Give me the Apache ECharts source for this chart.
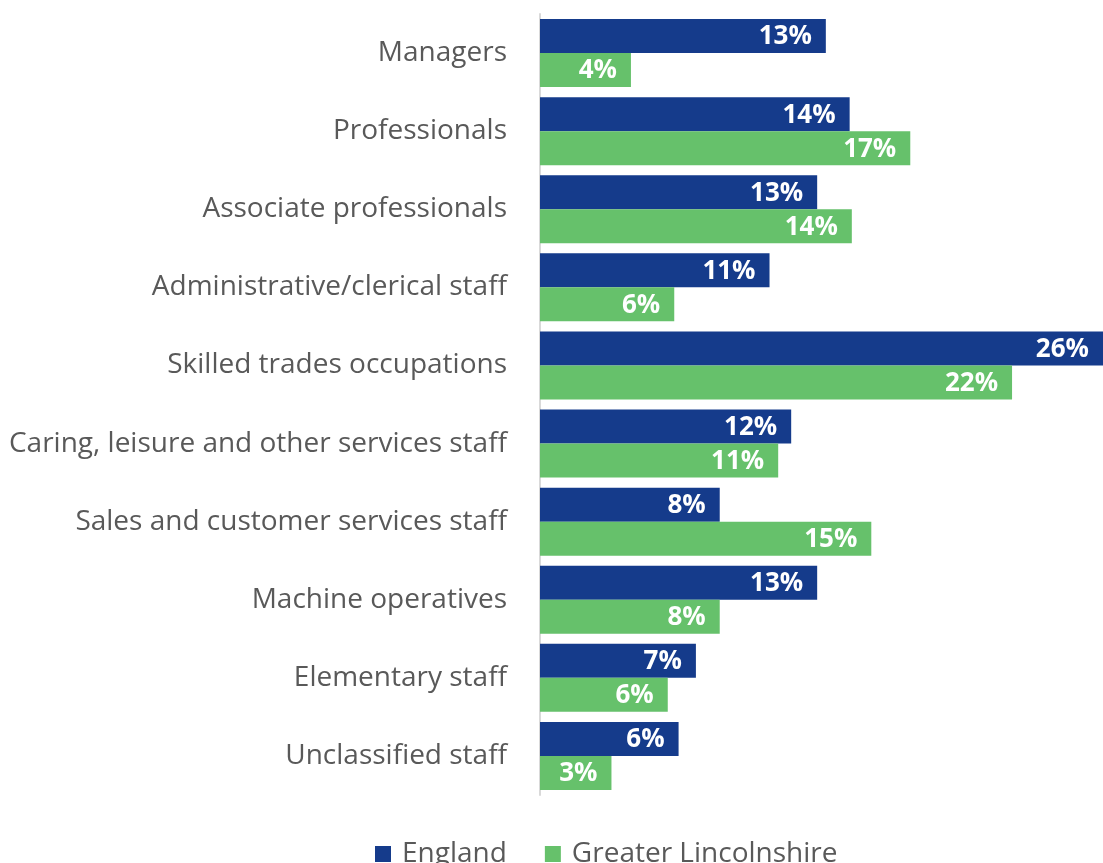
<!DOCTYPE html>
<html>
<head>
<meta charset="utf-8">
<script src="https://cdn.jsdelivr.net/npm/echarts@6/dist/echarts.min.js"></script>
<style>
  html, body { margin: 0; padding: 0; background: #fff; }
  #chart { width: 1103px; height: 863px; }
</style>
</head>
<body>
<div id="chart"></div>
<script>
  // occupations, top to bottom
  const categories = [
    'Managers', 'Professionals', 'Associate professionals', 'Administrative/clerical staff',
    'Skilled trades occupations', 'Caring, leisure and other services staff',
    'Sales and customer services staff', 'Machine operatives', 'Elementary staff', 'Unclassified staff'
  ]
  const england = [13.2, 14.3, 12.8, 10.6, 26.0, 11.6, 8.3, 12.8, 7.2, 6.4]
  const lincs = [4.2, 17.1, 14.4, 6.2, 21.8, 11.0, 15.3, 8.3, 5.9, 3.3]

  const font = '"Open Sans", Lato, sans-serif'
  const chart = echarts.init(document.getElementById('chart'))

  const label = {
    show: true,
    position: 'insideRight',
    color: '#fff',
    fontWeight: 'bold',
    fontSize: 26,
    fontFamily: font,
    offset: [-9, 1],
    formatter: p => Math.round(p.value) + '%'
  }

  chart.setOption({
    animation: false,
    grid: {left: 540, right: 0, top: 14, bottom: 68},
    legend: {
      bottom: -10,
      left: 370,
      itemWidth: 16,
      itemHeight: 16,
      itemGap: 38,
      icon: 'rect',
      textStyle: {fontSize: 28, color: '#595959', fontFamily: font, padding: [0, 0, 0, 6]},
      data: ['England', 'Greater Lincolnshire']
    },
    xAxis: {
      type: 'value',
      min: 0,
      max: 26,
      show: false
    },
    yAxis: {
      type: 'category',
      inverse: true,
      data: categories,
      axisLine: {show: true, lineStyle: {color: '#D9D9D9', width: 2}},
      axisTick: {show: false},
      axisLabel: {fontSize: 28, color: '#595959', fontFamily: font, margin: 33}
    },
    series: [
      {
        name: 'England',
        type: 'bar',
        data: england,
        barWidth: 34,
        barGap: '0%',
        itemStyle: {color: '#153B8B'},
        label: label
      },
      {
        name: 'Greater Lincolnshire',
        type: 'bar',
        data: lincs,
        barWidth: 34,
        itemStyle: {color: '#66C16B'},
        label: label
      }
    ]
  })
</script>
</body>
</html>
